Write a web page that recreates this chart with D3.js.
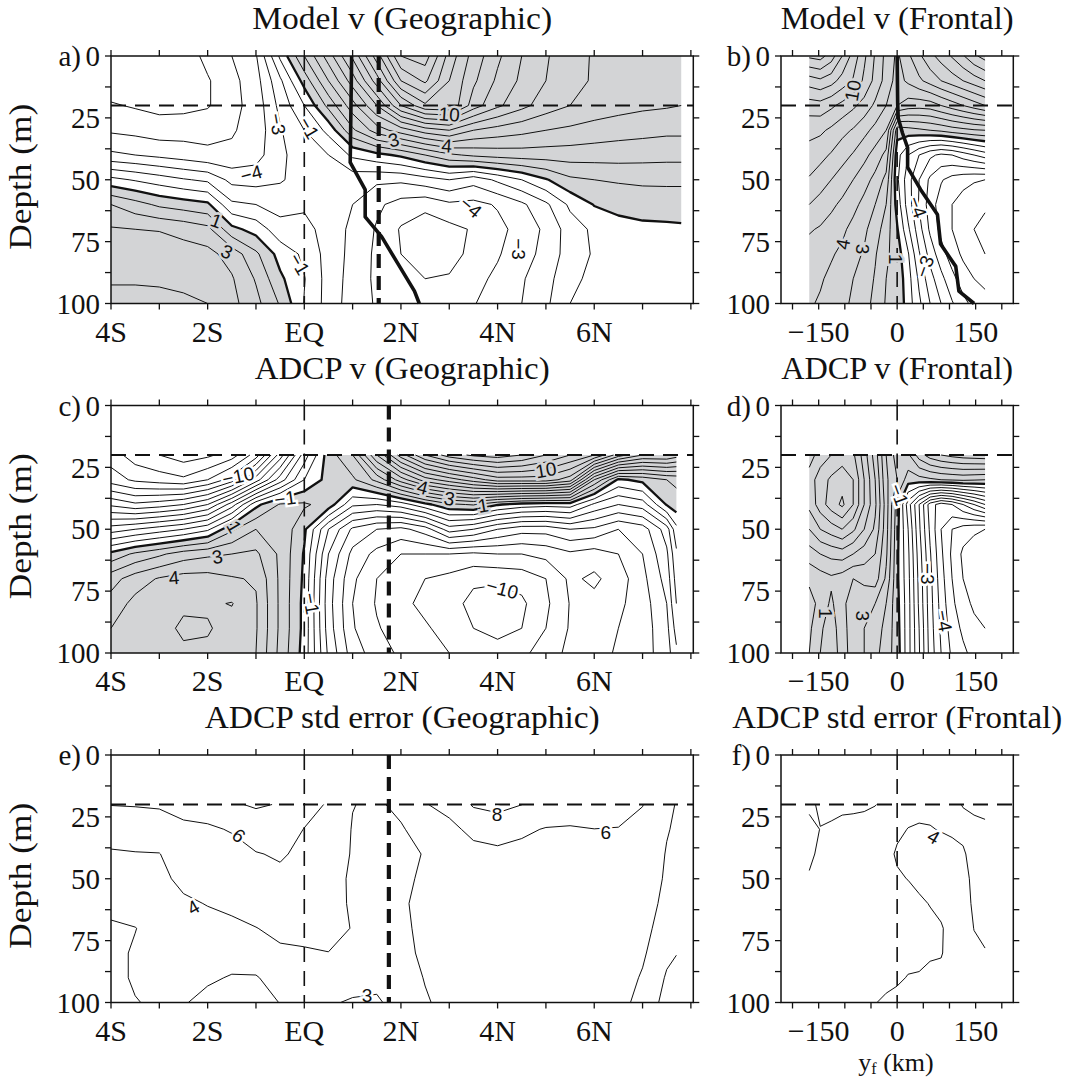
<!DOCTYPE html>
<html>
<head>
<meta charset="utf-8">
<script src="https://cdn.jsdelivr.net/npm/d3@7"></script>
<style>
  body { margin: 0; background: #fff; }
  svg text { font-family: "Liberation Serif", "Times New Roman", serif; fill: #111; }
  svg text.clab { font-family: "Liberation Sans", Arial, sans-serif; }
</style>
</head>
<body>
<svg id="fig" width="1068" height="1078"></svg>
<script>
// grid axes
const depthModel = [0, 10, 20, 30, 40, 50, 60, 70, 80, 90, 100];
const depthAdcp = [20, 30, 40, 50, 60, 70, 80, 90, 100];
const latModel = [-4, -3.5, -3, -2.5, -2, -1.5, -1, -0.5, 0, 0.5, 1, 1.5, 2, 2.5, 3, 3.5, 4, 4.5, 5, 5.5, 6, 6.5, 7, 7.5, 7.8];
const latAdcp = [-4, -3.5, -3, -2.5, -2, -1.5, -1, -0.5, 0, 0.5, 1, 1.5, 2, 2.5, 3, 3.5, 4, 4.5, 5, 5.5, 6, 6.5, 7, 7.5, 7.7];
const yfGrid = [-168, -147, -126, -105, -84, -63, -42, -21, 0, 21, 42, 63, 84, 105, 126, 147, 168];

// a) model v, geographic (cm/s) - one depth profile (0..100 m) per latitude
const modelGeo = [
  [-6.8, -6.6, -5.9, -5.15, -3.8, -0.7, 2.0, 3.1, 3.5, 3.9, 4.3],
  [-6.9, -6.8, -6.1, -5.3, -4.0, -1.1, 1.4, 3.0, 3.5, 3.9, 4.3],
  [-6.9, -6.8, -6.3, -5.5, -4.25, -1.5, 0.8, 2.95, 3.5, 3.85, 4.3],
  [-6.6, -6.6, -6.3, -5.4, -4.5, -1.9, 0.5, 2.7, 3.4, 3.8, 4.15],
  [-5.7, -6.1, -6.1, -5.3, -4.8, -2.2, 0.2, 2.3, 3.3, 3.7, 4.0],
  [-5.0, -5.3, -5.3, -5.1, -4.8, -3.3, -1.8, 0.3, 2.6, 3.1, 3.3],
  [-4.1, -4.4, -4.6, -4.6, -4.4, -3.4, -2.0, -0.4, 1.2, 1.9, 2.3],
  [-0.8, -2.2, -2.7, -3.1, -3.2, -3.1, -2.4, -1.6, -0.4, 0.2, 0.9],
  [2.0, 0.4, -1.0, -2.0, -2.5, -2.6, -2.2, -1.6, -1.2, -0.95, -1.05],
  [4.5, 3.0, 1.3, -0.7, -2.0, -2.4, -2.5, -2.5, -2.4, -2.4, -2.4],
  [7.2, 5.5, 3.6, 1.8, -0.8, -2.6, -3.0, -3.2, -3.3, -3.4, -3.5],
  [10.5, 8.5, 6.0, 3.5, -0.3, -2.8, -3.8, -4.1, -4.2, -4.2, -4.1],
  [14.0, 12.0, 9.0, 4.5, 0.2, -2.8, -4.4, -5.1, -5.0, -4.7, -4.5],
  [14.5, 13.2, 10.8, 5.5, 1.0, -2.4, -4.7, -5.6, -5.5, -5.0, -4.6],
  [11.6, 11.0, 10.9, 6.0, 1.8, -2.0, -4.2, -5.3, -5.4, -4.9, -4.4],
  [9.6, 9.2, 8.5, 5.0, 2.2, -2.6, -4.3, -4.9, -4.7, -4.3, -4.05],
  [8.2, 7.8, 7.2, 4.6, 2.4, -1.8, -3.9, -4.3, -4.1, -3.8, -3.6],
  [7.0, 6.8, 6.3, 4.3, 2.5, -1.0, -3.2, -3.6, -3.4, -3.1, -3.0],
  [6.1, 6.0, 5.5, 4.0, 2.5, -0.1, -2.2, -2.8, -2.7, -2.4, -2.2],
  [5.4, 5.3, 5.0, 3.8, 2.5, 0.8, -0.8, -1.5, -1.5, -1.2, -1.0],
  [4.9, 4.9, 4.6, 3.6, 2.45, 1.0, 0.05, -0.8, -0.9, -0.8, -0.8],
  [4.7, 4.6, 4.4, 3.4, 2.45, 1.1, 0.4, -0.5, -0.7, -0.7, -0.7],
  [4.6, 4.5, 4.2, 3.3, 2.4, 1.15, 0.55, -0.3, -0.6, -0.6, -0.6],
  [4.5, 4.4, 4.1, 3.2, 2.35, 1.15, 0.6, -0.25, -0.5, -0.5, -0.5],
  [4.5, 4.4, 4.0, 3.2, 2.35, 1.15, 0.6, -0.2, -0.5, -0.5, -0.5]
];

// b) model v, frontal coordinates - one profile (0..100 m) per y_f
const modelFront = [
  [14.2, 11.5, 9.5, 8.3, 7.6, 6.9, 6.0, 5.1, 4.6, 4.3, 4.1],
  [14.4, 11.8, 9.6, 8.2, 7.3, 6.5, 5.6, 4.9, 4.4, 4.1, 3.9],
  [13.5, 11.4, 9.2, 7.8, 6.9, 6.0, 5.2, 4.6, 4.1, 3.8, 3.6],
  [12.0, 10.6, 8.7, 7.3, 6.4, 5.5, 4.8, 4.2, 3.8, 3.5, 3.3],
  [10.6, 9.9, 8.2, 6.9, 5.9, 5.0, 4.3, 3.7, 3.3, 3.0, 2.8],
  [9.2, 8.8, 7.6, 6.3, 5.3, 4.4, 3.7, 3.2, 2.9, 2.6, 2.4],
  [7.9, 7.7, 6.8, 5.7, 4.6, 3.7, 3.0, 2.5, 2.1, 1.9, 1.7],
  [6.7, 6.6, 6.0, 5.0, 3.7, 2.7, 2.0, 1.5, 1.2, 1.0, 0.9],
  [5.8, 5.6, 5.0, 0.4, -0.6, -0.8, -0.4, 0.1, 0.5, 0.7, 0.8],
  [6.8, 6.2, 4.5, 0.6, -2.0, -2.6, -2.5, -1.8, -0.9, -0.6, -0.5],
  [7.8, 6.8, 4.4, 0.8, -3.0, -4.0, -4.1, -3.6, -2.9, -2.2, -1.8],
  [8.7, 7.4, 4.5, 1.0, -3.8, -5.2, -5.5, -5.2, -4.4, -3.6, -3.0],
  [9.4, 8.0, 5.0, 1.2, -4.2, -5.9, -6.5, -6.3, -5.6, -4.7, -4.0],
  [10.1, 8.5, 5.5, 1.5, -4.0, -6.4, -7.0, -7.0, -6.5, -5.7, -4.9],
  [10.9, 9.0, 6.0, 1.7, -3.5, -6.7, -7.4, -7.6, -7.2, -6.5, -5.7],
  [11.8, 9.5, 6.5, 1.9, -3.0, -6.9, -7.7, -8.0, -7.7, -7.0, -6.3],
  [12.4, 10.0, 7.0, 2.0, -2.5, -7.0, -7.9, -8.2, -8.0, -7.3, -6.6]
];

// c) ADCP v, geographic - one profile (20..100 m) per latitude
const adcpGeo = [
  [-11.5, -10.5, -7.2, -3.5, 0.3, 2.6, 3.4, 4.0, 4.1],
  [-12.5, -11.2, -7.8, -3.0, 1.2, 3.5, 4.3, 4.5, 4.4],
  [-13.0, -11.5, -7.5, -2.5, 1.8, 4.1, 4.6, 4.8, 4.6],
  [-13.5, -11.8, -7.0, -2.0, 2.5, 4.4, 4.9, 5.1, 4.9],
  [-13.2, -11.0, -6.0, -1.2, 2.8, 4.4, 4.85, 5.1, 4.8],
  [-12.5, -9.5, -3.5, 0.8, 3.0, 4.1, 5.05, 4.6, 4.4],
  [-10.5, -6.5, -0.3, 2.0, 3.2, 3.9, 4.1, 4.1, 4.0],
  [-6.5, -3.5, 1.1, 1.8, 1.8, 1.8, 1.8, 1.8, 1.7],
  [-2.5, -1.0, 1.15, 0.2, -0.1, -0.2, -0.3, -0.3, -0.4],
  [0.5, 0.4, 0.6, -3.0, -4.0, -4.5, -4.6, -4.5, -4.2],
  [2.0, 0.8, -1.8, -5.2, -6.3, -6.8, -7.0, -6.9, -6.5],
  [6.0, 2.3, -2.0, -6.0, -7.3, -8.0, -8.1, -7.9, -7.5],
  [9.5, 4.5, -1.5, -6.3, -8.0, -8.7, -8.8, -8.5, -8.2],
  [12.0, 6.5, -0.3, -5.5, -8.0, -9.0, -9.2, -8.9, -8.6],
  [13.5, 7.5, 0.8, -3.5, -8.0, -9.3, -9.6, -9.3, -9.0],
  [14.2, 8.5, 1.1, -4.0, -8.2, -9.8, -10.3, -10.0, -9.4],
  [14.5, 9.5, 0.1, -5.0, -8.0, -9.8, -10.6, -10.4, -9.5],
  [14.0, 9.5, -0.4, -5.6, -8.0, -9.6, -10.2, -10.0, -9.2],
  [13.0, 9.5, -0.6, -5.6, -7.7, -9.0, -9.2, -9.0, -8.6],
  [12.0, 8.5, -0.5, -5.0, -7.2, -7.8, -7.95, -7.9, -7.7],
  [11.0, 3.0, -2.2, -5.2, -7.5, -8.2, -7.7, -7.5, -7.3],
  [8.5, -0.2, -3.0, -6.0, -7.0, -7.5, -7.2, -7.0, -6.9],
  [7.0, 0.3, -2.5, -5.5, -6.0, -6.3, -6.5, -6.5, -6.4],
  [7.0, 1.0, 0.1, -3.5, -4.2, -4.6, -5.0, -5.3, -5.5],
  [6.5, 1.2, 0.6, -1.3, -2.2, -2.6, -3.0, -3.6, -4.2]
];

// d) ADCP v, frontal - one profile (20..100 m) per y_f
const adcpFront = [
  [7.5, 8.5, 8.3, 7.0, 5.5, 4.2, 3.6, 3.8, 4.0],
  [8.5, 9.5, 9.5, 8.0, 6.0, 4.5, 4.3, 4.8, 5.0],
  [9.0, 10.2, 10.5, 8.5, 6.3, 4.8, 5.2, 5.6, 5.8],
  [9.5, 10.6, 11.2, 9.0, 6.5, 4.5, 4.2, 4.3, 4.4],
  [9.2, 10.0, 10.0, 8.2, 6.0, 4.0, 3.6, 3.6, 3.6],
  [7.5, 8.0, 8.0, 7.0, 5.5, 4.3, 3.2, 3.0, 3.0],
  [5.5, 6.0, 6.2, 5.8, 5.0, 4.5, 3.0, 2.5, 2.3],
  [3.0, 3.2, 3.5, 3.4, 3.2, 2.8, 2.0, 1.7, 1.5],
  [1.5, 2.0, 0.5, 0.3, 0.2, 0.2, 0.3, 0.4, 0.5],
  [1.8, 0.5, -2.5, -2.0, -1.8, -1.7, -1.6, -1.6, -1.6],
  [3.5, 0.6, -5.0, -4.8, -4.5, -4.3, -4.2, -4.0, -3.9],
  [4.5, 0.8, -7.5, -7.2, -6.9, -6.7, -6.6, -6.5, -6.4],
  [5.0, 1.0, -8.5, -9.0, -8.8, -8.6, -8.4, -8.2, -8.0],
  [5.3, 1.1, -8.0, -10.0, -10.2, -10.0, -9.8, -9.5, -9.2],
  [5.5, 1.2, -7.0, -10.5, -11.2, -11.0, -10.6, -10.2, -9.8],
  [5.6, 1.1, -6.0, -10.8, -11.6, -11.6, -11.2, -10.7, -10.3],
  [5.7, 1.0, -5.0, -11.0, -11.8, -12.0, -11.5, -11.0, -10.5]
];

// e) ADCP standard error, geographic
const errGeo = [
  [6.05, 4.8, 3.8, 3.5, 3.2, 2.9, 2.8, 2.8, 2.8],
  [6.1, 5.0, 3.9, 3.7, 3.4, 2.98, 3.08, 3.08, 2.97],
  [6.2, 5.1, 3.95, 3.7, 3.5, 3.3, 3.2, 3.15, 3.1],
  [6.5, 5.7, 5.0, 4.3, 3.8, 3.5, 3.3, 3.2, 3.05],
  [6.7, 5.8, 5.3, 4.8, 4.05, 3.6, 3.3, 3.1, 2.8],
  [7.8, 6.1, 5.5, 5.0, 4.3, 3.7, 3.3, 2.95, 2.7],
  [8.2, 7.0, 5.9, 5.2, 4.6, 3.97, 3.4, 2.95, 2.7],
  [7.9, 7.0, 6.2, 5.6, 5.0, 4.3, 3.8, 3.3, 3.02],
  [6.8, 5.95, 5.6, 5.2, 4.8, 4.3, 3.9, 3.6, 3.3],
  [5.8, 5.4, 5.1, 4.8, 4.6, 4.4, 3.98, 3.5, 3.1],
  [4.05, 3.9, 3.85, 3.7, 3.8, 3.95, 3.8, 3.4, 2.9],
  [3.7, 3.5, 3.4, 3.4, 3.5, 3.5, 3.4, 3.2, 2.9],
  [4.5, 3.8, 3.5, 3.6, 3.8, 3.75, 3.7, 3.5, 3.3],
  [5.9, 4.9, 4.1, 4.3, 4.4, 4.3, 4.2, 4.05, 3.9],
  [6.6, 5.5, 5.0, 4.8, 4.7, 4.6, 4.5, 4.4, 4.3],
  [8.2, 6.5, 5.4, 5.0, 4.9, 4.8, 4.7, 4.6, 4.5],
  [8.6, 6.8, 5.6, 5.2, 5.0, 4.9, 4.8, 4.7, 4.6],
  [8.02, 6.3, 5.5, 5.2, 5.0, 4.9, 4.8, 4.7, 4.6],
  [7.3, 5.9, 5.4, 5.2, 5.1, 5.0, 4.9, 4.8, 4.7],
  [7.2, 5.8, 5.3, 5.1, 5.0, 4.9, 4.8, 4.7, 4.6],
  [7.2, 5.98, 5.5, 5.2, 5.0, 4.9, 4.8, 4.7, 4.6],
  [7.1, 5.9, 5.4, 5.1, 4.9, 4.8, 4.6, 4.5, 4.4],
  [6.05, 5.5, 5.2, 4.9, 4.7, 4.4, 4.15, 3.9, 3.6],
  [4.5, 4.1, 3.9, 3.8, 3.6, 3.4, 3.2, 2.9, 2.7],
  [3.9, 3.8, 3.6, 3.5, 3.4, 3.2, 3.02, 2.8, 2.6]
];

// f) ADCP standard error, frontal
const errFront = [
  [3.8, 4.3, 4.2, 3.9, 3.7, 3.6, 3.6, 3.6, 3.6],
  [4.15, 3.98, 3.8, 3.7, 3.6, 3.6, 3.6, 3.6, 3.6],
  [4.2, 3.9, 3.7, 3.6, 3.5, 3.5, 3.5, 3.5, 3.5],
  [4.15, 3.8, 3.6, 3.5, 3.5, 3.5, 3.5, 3.5, 3.5],
  [4.12, 3.8, 3.6, 3.5, 3.5, 3.5, 3.5, 3.5, 3.5],
  [4.1, 3.75, 3.6, 3.5, 3.5, 3.5, 3.5, 3.5, 3.6],
  [4.02, 3.7, 3.6, 3.5, 3.5, 3.5, 3.5, 3.6, 3.97],
  [3.85, 3.7, 3.75, 3.6, 3.55, 3.5, 3.5, 3.75, 4.15],
  [3.7, 3.85, 4.1, 3.9, 3.7, 3.6, 3.6, 3.85, 4.3],
  [3.7, 4.02, 4.4, 4.02, 3.7, 3.6, 3.7, 4.05, 4.4],
  [3.7, 4.1, 4.5, 4.3, 3.8, 3.6, 3.7, 4.1, 4.5],
  [3.75, 4.05, 4.5, 4.4, 4.05, 3.7, 3.9, 4.2, 4.5],
  [3.8, 3.95, 4.4, 4.5, 4.3, 3.9, 3.95, 4.2, 4.5],
  [3.85, 3.85, 4.3, 4.5, 4.5, 4.4, 4.3, 4.4, 4.5],
  [4.03, 3.8, 4.1, 4.4, 4.5, 4.5, 4.4, 4.4, 4.5],
  [4.15, 3.8, 3.7, 3.7, 3.8, 3.98, 4.2, 4.4, 4.5],
  [4.3, 3.8, 3.7, 3.7, 3.7, 3.8, 4.05, 4.3, 4.4]
];

// front positions [x, depth]
const frontGeo = [[0.98, 0], [0.95, 43], [1.26, 54], [1.26, 65], [1.6, 73], [1.94, 84], [2.28, 95], [2.38, 100]];
const frontFrontal = [[0, 0], [1, 19], [2, 25], [10, 31], [20, 37], [20, 45], [45, 54], [77, 64], [83, 76], [112, 85], [118, 95], [147, 100]];

const vLevels = d3.range(-15, 16);
const errLevels = [3, 4, 6, 8];

// contour labels [x, depth, text, angle]
const labelsA = [[3.0, 23.5, '10', 4], [2.95, 36.2, '4', 4], [1.85, 33.8, '3', -15], [-1.1, 47.5, '−4', -15],
  [-0.55, 27.5, '−3', 80], [0.1, 29, '−1', 60], [-1.82, 66.5, '1', 20], [-1.6, 79, '3', 25],
  [-0.1, 84, '−1', 60], [3.45, 61, '−4', 40], [4.43, 78, '−3', 90]];
const labelsB = [[-85, 14, '10', -80], [-104, 76, '4', -80], [-66, 78, '3', 90], [-3, 82, '1', 90],
  [39, 61, '−4', 70], [52, 85, '−3', -70]];
const labelsC = [[-1.37, 28.5, '−10', -12], [-0.4, 37.5, '−1', -8], [-1.45, 49, '1', 60], [-1.8, 61, '3', -10],
  [-2.7, 69.5, '4', -5], [0.15, 80, '−1', 80], [2.45, 33, '4', 15], [3.0, 37.5, '3', 10],
  [3.7, 40.3, '1', -10], [5.0, 26, '10', -10], [4.1, 74, '−10', 15]];
const labelsD = [[4, 36, '−1', 70], [58, 68, '−3', 90], [90, 87, '−4', 80], [-66, 85, '3', 90], [-136, 84, '1', 90]];
const labelsE = [[-1.35, 32.5, '6', 40], [-2.3, 61.5, '4', -30], [1.3, 97, '3', 0], [3.99, 24, '8', 0], [6.24, 31, '6', 0]];
const labelsF = [[70, 33, '4', 30]];

const grey = '#d3d4d6';
const rowTop = [56, 405.5, 755];
const panelH = 247.5;
const leftBox = [111, 693.3];
const rightBox = [781, 1013.3];

const svg = d3.select('#fig');
svg.append('rect').attr('width', 1068).attr('height', 1078).attr('fill', '#fff');

const panels = [
  { tag: 'a)', title: 'Model v (Geographic)', titleW: 300, geo: true, row: 0, xs: latModel, depths: depthModel, cols: modelGeo,
    levels: vLevels, shade: true, front: frontGeo, vdash: [[0, false], [1.54, true]], labels: labelsA },
  { tag: 'b)', title: 'Model v (Frontal)', titleW: 233, geo: false, row: 0, xs: yfGrid, depths: depthModel, cols: modelFront,
    levels: vLevels, shade: true, front: frontFrontal, vdash: [[0, false]], labels: labelsB },
  { tag: 'c)', title: 'ADCP v (Geographic)', titleW: 295, geo: true, row: 1, xs: latAdcp, depths: depthAdcp, cols: adcpGeo,
    levels: vLevels, shade: true, vdash: [[0, false], [1.75, true]], labels: labelsC },
  { tag: 'd)', title: 'ADCP v (Frontal)', titleW: 232, geo: false, row: 1, xs: yfGrid, depths: depthAdcp, cols: adcpFront,
    levels: vLevels, shade: true, vdash: [[0, false]], labels: labelsD },
  { tag: 'e)', title: 'ADCP std error (Geographic)', titleW: 395, geo: true, row: 2, xs: latAdcp, depths: depthAdcp, cols: errGeo,
    levels: errLevels, shade: false, vdash: [[0, false], [1.75, true]], labels: labelsE },
  { tag: 'f)', title: 'ADCP std error (Frontal)', titleW: 330, geo: false, row: 2, xs: yfGrid, depths: depthAdcp, cols: errFront,
    levels: errLevels, shade: false, vdash: [[0, false]], labels: labelsF }
];

// split a closed ring into open polylines, dropping pieces that run along the data edge
function splitRing(pts, edge) {
  const n = pts.length - 1;
  let start = -1;
  for (let k = 0; k < n; k++) if (edge(pts[k], pts[k + 1])) { start = k; break; }
  if (start < 0) return [pts];
  const out = [];
  let cur = null;
  for (let m = 1; m <= n; m++) {
    const s = (start + m) % n;
    const a = pts[s], b = pts[s + 1];
    if (edge(a, b)) { if (cur) { out.push(cur); cur = null; } }
    else { if (!cur) cur = [a]; cur.push(b); }
  }
  if (cur) out.push(cur);
  return out;
}

panels.forEach(p => {
  const box = p.geo ? leftBox : rightBox;
  const top = rowTop[p.row], bottom = top + panelH;
  const x = d3.scaleLinear().domain(p.geo ? [-4, 8.05] : [-222, 222]).range(box);
  const y = d3.scaleLinear().domain([0, 100]).range([top, bottom]);
  const g = svg.append('g');

  const nx = p.cols.length, ny = p.depths.length;
  const values = new Array(nx * ny);
  p.cols.forEach((col, i) => col.forEach((v, j) => { values[j * nx + i] = v; }));
  const ix = d3.scaleLinear().domain(d3.range(nx)).range(p.xs).clamp(true);
  const iy = d3.scaleLinear().domain(d3.range(ny)).range(p.depths).clamp(true);
  const px = gx => x(ix(gx - 0.5));
  const py = gy => y(iy(gy - 0.5));
  const gen = d3.contours().size([nx, ny]);

  if (p.shade) {
    const mp = gen.contour(values, 0);
    const d = mp.coordinates.map(poly => poly.map(ring =>
      'M' + ring.map(pt => px(pt[0]).toFixed(2) + ',' + py(pt[1]).toFixed(2)).join('L') + 'Z').join('')).join('');
    g.append('path').attr('d', d).attr('fill', grey).attr('fill-rule', 'evenodd');
  }

  const X0 = px(0), X1 = px(nx), Y0 = py(0), Y1 = py(ny);
  const eps = 1e-6;
  const edge = (a, b) =>
    (Math.abs(a[0] - X0) < eps && Math.abs(b[0] - X0) < eps) ||
    (Math.abs(a[0] - X1) < eps && Math.abs(b[0] - X1) < eps) ||
    (Math.abs(a[1] - Y0) < eps && Math.abs(b[1] - Y0) < eps) ||
    (Math.abs(a[1] - Y1) < eps && Math.abs(b[1] - Y1) < eps);
  const line = d3.line();

  p.levels.forEach(lev => {
    const mp = gen.contour(values, lev);
    mp.coordinates.forEach(poly => poly.forEach(ring => {
      const pts = ring.map(pt => [px(pt[0]), py(pt[1])]);
      splitRing(pts, edge).forEach(seg => {
        if (seg.length < 2) return;
        g.append('path').attr('d', line(seg)).attr('fill', 'none')
          .attr('stroke', '#111').attr('stroke-linejoin', 'round')
          .attr('stroke-width', (p.shade && lev === 0) ? 2.3 : 1.0);
      });
    }));
  });

  // dashed reference lines
  g.append('line').attr('x1', box[0]).attr('x2', box[1]).attr('y1', y(20)).attr('y2', y(20))
    .attr('stroke', '#111').attr('stroke-width', 2.2).attr('stroke-dasharray', '15,9');
  p.vdash.forEach(([v, thick]) => {
    g.append('line').attr('x1', x(v)).attr('x2', x(v)).attr('y1', top).attr('y2', bottom)
      .attr('stroke', '#111').attr('stroke-width', thick ? 4.2 : 1.6)
      .attr('stroke-dasharray', thick ? '14,8' : '15,9');
  });

  if (p.front) {
    g.append('path').attr('d', d3.line().x(d => x(d[0])).y(d => y(d[1]))(p.front))
      .attr('fill', 'none').attr('stroke', '#111').attr('stroke-width', 3.6).attr('stroke-linejoin', 'round');
  }

  // contour labels
  p.labels.forEach(([lx, ld, txt, ang]) => {
    const bg = (p.shade && txt[0] !== '−') ? grey : '#fff';
    g.append('text').attr('class', 'clab')
      .attr('transform', `translate(${x(lx)},${y(ld)}) rotate(${ang})`)
      .attr('text-anchor', 'middle').attr('dy', '0.36em').attr('font-size', 19)
      .attr('stroke', bg).attr('stroke-width', 5).attr('paint-order', 'stroke')
      .text(txt);
  });

  // frame and ticks
  g.append('rect').attr('x', box[0]).attr('y', top).attr('width', box[1] - box[0]).attr('height', panelH)
    .attr('fill', 'none').attr('stroke', '#111').attr('stroke-width', 1.5);
  const tk = 6;
  const xt = p.geo ? d3.range(-4, 9, 1) : d3.range(-200, 201, 50);
  xt.forEach(t => {
    g.append('line').attr('x1', x(t)).attr('x2', x(t)).attr('y1', top - tk).attr('y2', top).attr('stroke', '#111').attr('stroke-width', 1.3);
    g.append('line').attr('x1', x(t)).attr('x2', x(t)).attr('y1', bottom).attr('y2', bottom + tk).attr('stroke', '#111').attr('stroke-width', 1.3);
  });
  d3.range(0, 100.1, 12.5).forEach(t => {
    g.append('line').attr('x1', box[0] - tk).attr('x2', box[0]).attr('y1', y(t)).attr('y2', y(t)).attr('stroke', '#111').attr('stroke-width', 1.3);
    g.append('line').attr('x1', box[1]).attr('x2', box[1] + tk).attr('y1', y(t)).attr('y2', y(t)).attr('stroke', '#111').attr('stroke-width', 1.3);
  });

  // tick labels
  const xlabels = p.geo ? [[-4, '4S'], [-2, '2S'], [0, 'EQ'], [2, '2N'], [4, '4N'], [6, '6N']]
                        : [[-150, '−150'], [0, '0'], [150, '150']];
  xlabels.forEach(([t, s]) => {
    g.append('text').attr('x', x(t)).attr('y', bottom + 38).attr('text-anchor', 'middle')
      .attr('font-size', 30).text(s);
  });
  [0, 25, 50, 75, 100].forEach(t => {
    g.append('text').attr('x', box[0] - 11).attr('y', y(t)).attr('dy', '0.35em').attr('text-anchor', 'end')
      .attr('font-size', 29).text(t);
  });
  g.append('text').attr('x', box[0] - 30).attr('y', y(0)).attr('dy', '0.35em').attr('text-anchor', 'end')
    .attr('font-size', 29).text(p.tag);

  // title
  g.append('text').attr('x', (box[0] + box[1]) / 2).attr('y', top - 27).attr('text-anchor', 'middle')
    .attr('font-size', 31).attr('textLength', p.titleW).attr('lengthAdjust', 'spacingAndGlyphs').text(p.title);

  if (p.geo) {
    g.append('text').attr('transform', `translate(31,${(top + bottom) / 2 - 3}) rotate(-90)`)
      .attr('text-anchor', 'middle').attr('font-size', 31)
      .attr('textLength', 146).attr('lengthAdjust', 'spacingAndGlyphs').text('Depth (m)');
  }
});

// x-axis title for the frontal panel
const xTitle = svg.append('text').attr('x', 896).attr('y', 1071).attr('text-anchor', 'middle').attr('font-size', 26);
xTitle.append('tspan').text('y');
xTitle.append('tspan').attr('dy', 3).attr('font-size', 16).text('f');
xTitle.append('tspan').attr('dy', -3).text(' (km)');
</script>
</body>
</html>
